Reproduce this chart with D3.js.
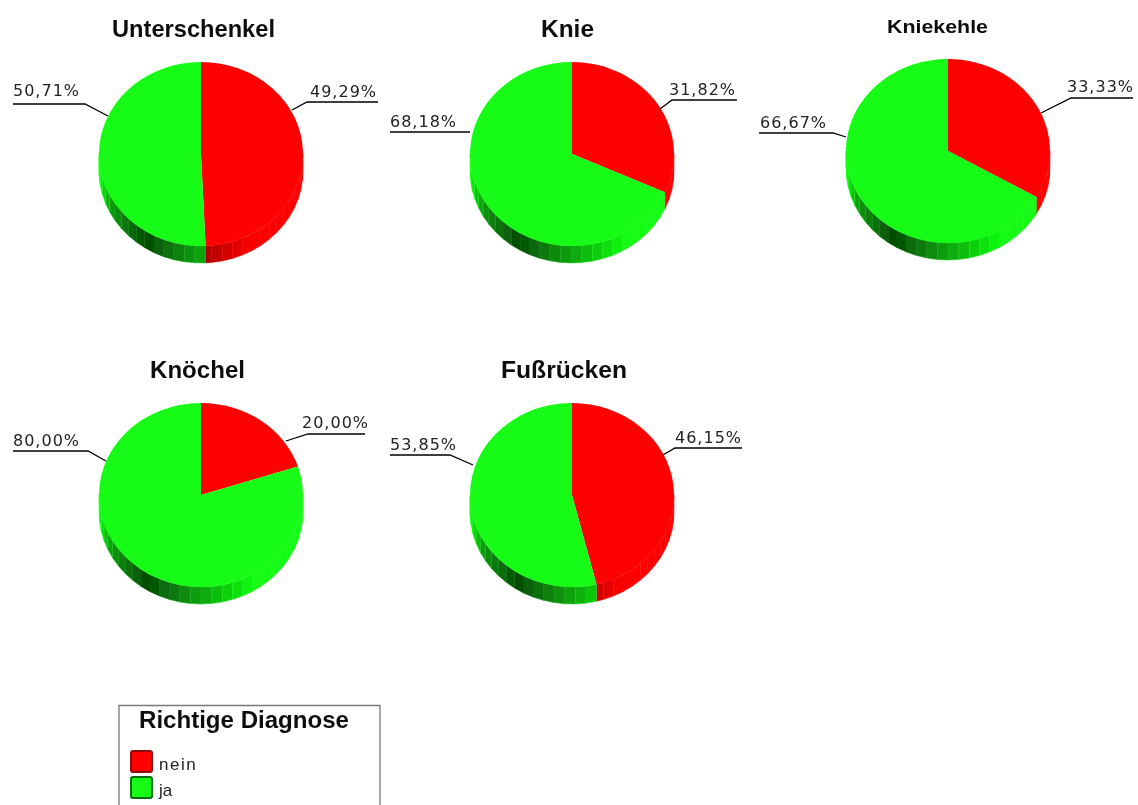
<!DOCTYPE html>
<html><head><meta charset="utf-8">
<script src="https://cdn.jsdelivr.net/npm/d3@7/dist/d3.min.js"></script>
<style>html,body{margin:0;padding:0;background:#fff;overflow:hidden}svg{display:block}</style>
</head><body><svg id="c" width="1138" height="805"></svg>
<script>
const categories = ["nein", "ja"];
const regions = ["Unterschenkel", "Knie", "Kniekehle", "Knöchel", "Fußrücken"];
const neinValues = [49.29, 31.82, 33.33, 20.00, 46.15];
const jaValues = [50.71, 68.18, 66.67, 80.00, 53.85];
const legendTitle = "Richtige Diagnose";

// layout only
const centers = [[201,154],[572,154],[948,151],[201,495],[572,495]];
const titleLayout = [[193.5,37,24,163],[567.5,37,24,53],[937.5,33,18,101],[197.5,378,24,95],[564,378,24,126]];
const rightLeaders = [
  [[292,110],[307,102],[378,102]], [[660,109],[672,100],[737,100]], [[1041,113],[1071,98],[1133,98]],
  [[286,441],[308,434],[365,434]], [[663,455],[675,448],[742,448]]];
const leftLeaders = [
  [[13,104],[85,104],[108,116]], [[390,132],[470,132]], [[759,133],[833,133],[846,137]],
  [[13,451],[88,451],[106,461]], [[390,455],[450,455],[473,465]]];
const rightText = [[310,97],[669,95],[1067,92],[302,428],[675,443]];
const leftText = [[13,96],[390,127],[760,128],[13,446],[390,450]];
const rx = 102, ry = 92, depth = 17;

const colors = d3.scaleOrdinal().domain(categories).range(["#ff0000", "#12fc12"]);
const shade = d3.scaleLinear().domain([90,150,180,212,240,262,270]).range([1,1,.65,.3,.6,1,1]).clamp(true);
const fmt = d3.formatLocale({decimal:",",thousands:".",grouping:[3],currency:["","€"]}).format(".2f");
const svg = d3.select("#c");
const defs = svg.append("defs");
defs.append("filter").attr("id","soft").append("feGaussianBlur").attr("stdDeviation",0.55);
const root = svg.append("g").attr("filter","url(#soft)");
const pie = d3.pie().sort(null).value(d => d.v);
const arc = d3.arc().innerRadius(0).outerRadius(rx);
const FONT = "'Liberation Sans',Arial,sans-serif";
const LFONT = "'DejaVu Sans',sans-serif";
const pt = (a, dy) => [rx*Math.sin(a), -ry*Math.cos(a)+dy];

regions.forEach((name,i) => {
  const [cx,cy] = centers[i];
  const g = root.append("g").attr("transform",`translate(${cx},${cy})`);
  const slices = pie(categories.map((c,k)=>({c, v:[neinValues,jaValues][k][i]})));
  const step = 6*Math.PI/180;
  const line = d3.line();
  slices.forEach(s => {
    const lo = Math.max(s.startAngle, Math.PI/2), hi = Math.min(s.endAngle, 3*Math.PI/2);
    if (hi <= lo) return;
    const base = d3.rgb(colors(s.data.c));
    for (let a = lo; a < hi; a += step) {
      const b = Math.min(a+step,hi), f = shade((a+b)/2*180/Math.PI);
      const c0 = d3.rgb(base.r*f, base.g*f, base.b*f);
      const p = [pt(a,0),pt(b,0),pt(b,depth),pt(a,depth)];
      g.append("path").attr("d",line(p)+"Z").attr("fill",c0.formatHex()).attr("stroke",c0.brighter(.5).formatHex()).attr("stroke-width",.5);
    }
  });
  g.append("g").attr("transform",`scale(1,${ry/rx})`).selectAll("path").data(slices).join("path")
    .attr("d",arc).attr("fill",d=>colors(d.data.c));
  const [tx,ty,ts,tw] = titleLayout[i];
  root.append("text").attr("x",tx).attr("y",ty).attr("text-anchor","middle")
    .attr("font-family",FONT).attr("font-weight","bold").attr("font-size",ts)
    .attr("textLength",tw).attr("lengthAdjust","spacingAndGlyphs").attr("fill","#111").text(name);
  [[rightLeaders,rightText,neinValues],[leftLeaders,leftText,jaValues]].forEach(([L,T,V]) => {
    root.append("path").attr("d",line(L[i])).attr("fill","none").attr("stroke","#000").attr("stroke-width",1.3);
    root.append("text").attr("x",T[i][0]).attr("y",T[i][1]).attr("font-family",LFONT).attr("font-size",16)
      .attr("letter-spacing",1).attr("fill","#222").text(fmt(V[i])+"%");
  });
});

const lg = root.append("g");
lg.append("path").attr("d","M119,806V705.5H380V806").attr("fill","#fff").attr("stroke","#777").attr("stroke-width",1.3);
lg.append("text").attr("x",244).attr("y",728).attr("text-anchor","middle").attr("font-family",FONT)
  .attr("font-weight","bold").attr("font-size",24).attr("textLength",210).attr("lengthAdjust","spacingAndGlyphs")
  .attr("fill","#111").text(legendTitle);
const ly = d3.scalePoint().domain(categories).range([751,777]);
const dark = {nein:"#8a1010", ja:"#0a6a0a"};
categories.forEach(c => {
  lg.append("rect").attr("x",131).attr("y",ly(c)).attr("width",21).attr("height",21).attr("rx",2)
    .attr("fill",colors(c)).attr("stroke",dark[c]).attr("stroke-width",2);
  lg.append("text").attr("x",159).attr("y",ly(c)+19).attr("font-family",FONT).attr("font-size",17)
    .attr("letter-spacing",c==="nein"?1.5:0).attr("fill","#222").text(c);
});
</script></body></html>
